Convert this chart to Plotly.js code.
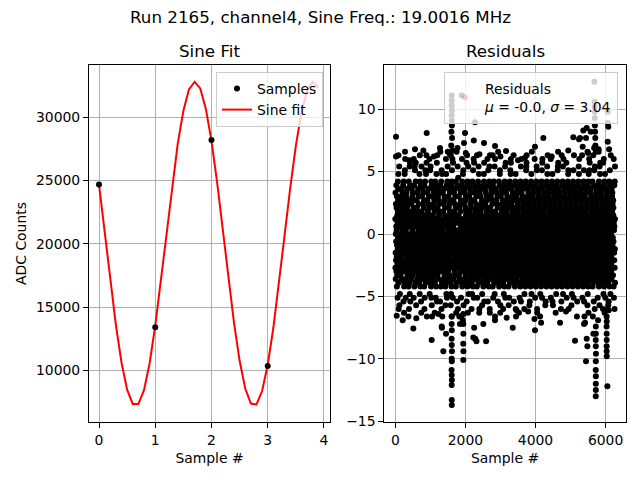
<!DOCTYPE html>
<html>
<head>
<meta charset="utf-8">
<script src="https://cdn.plot.ly/plotly-3.0.1.min.js"></script>
<style>
  html, body { margin: 0; padding: 0; background: #fff; }
  #chart { width: 640px; height: 480px; }
</style>
</head>
<body>
<div id="chart"></div>
<script>
// ---- data ----
const runTitle = 'Run 2165, channel4, Sine Freq.: 19.0016 MHz';

// ADC samples and the fitted sine (left panel)
const sampleX = [0, 1, 2, 3];
const sampleY = [24685, 13395, 28183, 10340];

const fitX = [0, 0.1, 0.2, 0.3, 0.4, 0.5, 0.6, 0.7, 0.8, 0.9,
              1.0, 1.1, 1.2, 1.3, 1.4, 1.5, 1.6, 1.7, 1.8, 1.9,
              2.0, 2.1, 2.2, 2.3, 2.4, 2.5, 2.6, 2.7, 2.8, 2.9,
              3.0, 3.1, 3.2, 3.3, 3.4, 3.5, 3.6, 3.7, 3.8, 3.9];
const fitY = [24660, 20940, 17140, 13590, 10620, 8470, 7340, 7330, 8430, 10560,
              13520, 17070, 20860, 24580, 27900, 30500, 32190, 32790, 32260, 30650,
              28100, 24840, 21130, 17330, 13760, 10750, 8560, 7370, 7300, 8360,
              10440, 13360, 16880, 20670, 24400, 27750, 30390, 32130, 32790, 32320];

// Residuals (right panel), every 3rd sample, one char per value:
// position in resAlphabet minus 32 ('g' = 0), times 0.3 ADC counts.
// One row = 150 samples.
const resAlphabet = 'ABCDEFGHIJKLMNOPQRSTUVWXYZabcdefghijklmnopqrstuvwxyz0123456789+/';
const resEvery = 3;
const resCode = [
  'kXrbUgoZeitWnhaSqdVlYjPcmufspw1TMZeXiybNkdYaQlfWco',
  'VdmZsgaXqiYbUnfkWhrjecolptXgObuiYLSTeZkwdx2j0WmcfP',
  'hUqbYlZrgdWnsaeXjcViokfmpKSeuYMkaTicyZQzbtdOXjlfWg',
  'aWjoUgcsZmeYqhbVkXrdlfpinP0gtaedSkyWbxZiTfXcuzjYNm',
  'eZpiWcnYgkUrafXmdsjbVoqlhdTiWgwbQ1ZuekSafjtcXOhLYy',
  'mXhcqYsbUjZfoWgdrVkaenilpStMbePjXuhZcxTiYawfkd1zWe',
  'YkUfpaXrhdmZcsbWoigVqeljn0gQaiTxcZedyWkjSbuPfYtNXK',
  'qdXjaUlhZseWcongYbrfVipmkLTbhfuXcaPkWeStdwjiYzOgZ1',
  'gVnbYqeUkZsidXpaloWcrhfjmeOk2tZahSdjXuiMbxcTfwYKgW',
  'ZhrcWmUjfYoagdsXbkqeVpinlcSNiTY0bwekQZatjPfXduWgy2',
  'fWkaqZhUdnYsgcXobjVrmielpTgN1hQtbZSeuKjxXcg0fdYPiz',
  'iYpcUkgZraXmfdWsbhoVjqelnuShgLeTZ2cjbOYtk3ayXdMfvg',
  'bXlgqVhdZnUfsjaYckoWmeripPgeKtchTZ0bSujXdiJwaYgxfN',
  'kWdoZshUbgYrjXacfnVpiqlmegTzhOcbt1eZSjkuLaXdyYfQig',
  'jaWqcYmgUZskfXodbhreVnlipMcTgZQkbeutYdSjxaXfi0PWgz',
  'ZpgbXkUhreWmacjYsdfoVqilneS1jPhbZtidXuckTayYgwfWLM',
  'dYriUgaZmcWqhXkbsejVolfpnNQchTeZbjtYaSkdXiwfuzOgWc',
  'hbWsgZoUjcXreYkadmfVqiplnT0dhjOZcbxaYteSkXfiuygWML',
  'caXnYgiUqZdsWhkbrmfeVjolpZ1StgcPeYbjuiXaTdkfyQgWK0',
  'mgZcWsYaUkhpXbdrjfeoVqinlhOb2eTZkjcuYSdaXtfiwxgWLN',
  'XigqaZkUcsWhdYmbrejofVlpncMTZhebQkjtYaSdXuifygPWhz',
  'gkYrcUaZsmhWebXqdjofVpilnbhSNZcetPjkYaXudTfixgwW0z',
  'ZsgbWkoUhcYqaXmdrejfVipln1hOcTZebjktYSaXdufiwMgWKc',
  'hYdqUgZaksWcXmbroejfViplncLZThebPjkYtaSXduifyOgWh0',
  'rgXaWkZUcshYqbdmoejfViplnZhMQcTebjYktSaXudfixgyWz1',
  'cWYgsaUZkhqXmbdroejfViplnNgZcOTbejkYStaXdufiwQgWh2',
  'kZgWqYaUcshXrmbdoejfVipln0cZhTPebjkYtSaXduifygxWML',
  'YgcWaZsUkqhXmbrdoejfViplnhZKcQTebjkYSatXdufixPgWz0',
  'gWsZaYkUchXqmbdroejfViplncNhZTObejkYtSaXduifygwWh1',
  'aZgWYskUchqXbmrdoejfViplnZhc0PTebjkYStaXdufiwOgWhN',
  'WgZaYcsUkhXqmbrdoejfViplnLZchTQbejkYtSaXduifxgyW2z',
  'sgWZaYkUchXqbmdroejfViplnMgZcOTebjkYSatXdufiyQgWh0',
  'gZWaYsckUhXqmbdroejfViplncZzhTPbejkYtSaXduifwgxWhM',
  'ZagWYskUchXqmbrdoejfViplnNhZcQTebjkYStaXdufixPgWh1',
  'WaZgYskUchqXmbdroejfViplnhcKZTObejkYtSaXduifygwWh0',
  'gaWZYkUschXqmbrdoejfViplnZ1hcPTebjkYSatXdufixOgWhK',
  'hXcqUaZgksWmYbdrojefVilpnTgN2hQtbZSeuLjwXcg0fdYxiz',
  'kYgaWsZUchrXqmbdeojfViplnuShgKeTZ1cjbOYtk3axXdMfyg',
  'ZgcWYaqUkshXbmdroejfViplnPgeJtchTZ2bSujXdiNyaYgwfz',
  'gWZaYsqUkchXmbrdoejfViplnMTzhQcbt0eZSjkuLaXdwYfPig',
  'aWgZsYkUhcXqbmdroejfViplnNcTgZOkbeutYdSjxaXfigQWg1',
  'ZgWaYkUschXqmbrdoejfViplneS0jPhbZtiMXuckT'
];

// larger excursions, read point by point (sample #, residual)
const outlierX = [20, 20, 400, 562, 800, 895, 1100, 1275,
  1609, 1609, 1609, 1612, 1606, 1610, 1615, 1600, 1620, 1595, 1630, 1560,
  1894, 1989, 1960, 2010, 2240, 2274, 2400, 2531, 2700, 2845, 3000, 3158,
  3500, 3700, 3985, 4223, 4462, 4747, 4936, 5079, 5241, 5270, 5346, 5364,
  5441, 5460, 5575, 5500,
  5680, 5685, 5688, 5690, 5690, 5695, 5700, 5705, 5710, 5720, 5800,
  6060, 6062, 6077, 6060, 6100, 6268,
  40, 211, 514, 600, 900, 1038, 1230, 1324, 1330, 1370, 1447,
  1609, 1609, 1612, 1606, 1610, 1615, 1608, 1612, 1605, 1610, 1614, 1609, 1610, 1612,
  1826, 1845, 1940, 1940, 1942, 1938, 1944, 1940,
  2225, 2250, 2280, 2315, 2511, 2590, 2845, 3178, 3350, 3460, 3790, 3970,
  3986, 4160, 4700, 4870, 5127, 5384, 5413, 5441, 5460, 5480, 5650,
  5720, 5722, 5718, 5720, 5724, 5720, 5718, 5722, 5720, 5721, 5719,
  6030, 6030, 6032, 6028, 6030, 6031, 6029, 6030, 6032, 6050, 6090];
const outlierY = [7.8, 6.2, 5.9, 6.8, 6.7, 8.1, 6.2, 6.9,
  11.1, 10.7, 10.3, 9.9, 9.5, 9.1, 8.7, 8.2, 7.7, 7.1, 6.7, 6.4,
  11.1, 8.1, 7.3, 6.5, 7.5, 8.95, 6.4, 7.3, 6.3, 7.05, 6.2, 6.65,
  5.9, 6.1, 7.0, 7.7, 6.2, 6.3, 6.7, 7.75, 7.6, 7.7, 7.0, 8.3,
  7.7, 8.5, 8.2, 6.5,
  12.2, 10.6, 10.2, 9.8, 9.3, 8.7, 8.2, 7.7, 7.1, 6.6, 6.8,
  9.8, 8.9, 8.6, 7.4, 6.8, 5.4,
  -6.55, -6.9, -7.56, -6.75, -6.6, -8.5, -6.4, -7.4, -7.5, -9.4, -8.0,
  -6.6, -7.2, -7.7, -8.4, -8.9, -9.4, -10.0, -10.2, -10.9, -11.3, -11.7, -12.1, -13.3, -13.7,
  -6.6, -7.2, -6.4, -7.2, -8.0, -8.8, -9.4, -10.1,
  -8.3, -7.5, -8.4, -8.6, -7.2, -8.6, -6.9, -6.7, -7.5, -6.1, -6.2, -6.8,
  -7.7, -7.1, -7.1, -6.2, -8.55, -7.2, -7.1, -10.2, -8.4, -9.0, -8.0,
  -7.4, -8.0, -8.5, -9.0, -9.6, -10.2, -10.9, -11.4, -12.0, -12.5, -13.0,
  -6.1, -6.6, -7.0, -7.4, -8.0, -8.5, -9.0, -9.4, -9.8, -12.2, -6.1];

const residualLabel = 'Residuals<br><i>μ</i> = -0.0, <i>σ</i> = 3.04';

// ---- build residual series ----
const resX = [];
const resY = [];
resCode.join('').split('').forEach((ch, i) => {
  resX.push(i * resEvery);
  resY.push((resAlphabet.indexOf(ch) - 32) * 0.3);
});
outlierX.forEach((x, i) => {
  resX.push(x);
  resY.push(outlierY[i]);
});

// ---- styling ----
const FONT = 'DejaVu Sans, sans-serif';
const W = 640, H = 480;
const px = v => v / W;
const py = v => 1 - v / H;

const axisBase = {
  showline: true, mirror: true, linecolor: '#000', linewidth: 1,
  ticks: 'outside', ticklen: 5, tickwidth: 1, tickcolor: '#000',
  showgrid: true, gridcolor: '#b0b0b0', gridwidth: 1,
  zeroline: false, automargin: false,
  tickfont: { family: FONT, size: 13.9, color: '#000' }
};
const axisTitleFont = { family: FONT, size: 13.9, color: '#000' };

const legendBase = {
  bgcolor: 'rgba(255,255,255,0.8)', bordercolor: '#cccccc', borderwidth: 1,
  font: { family: FONT, size: 13.9, color: '#000' },
  xanchor: 'right', yanchor: 'top', tracegroupgap: 0
};

const traces = [
  {
    type: 'scatter', mode: 'lines', name: 'Sine fit',
    x: fitX, y: fitY, xaxis: 'x', yaxis: 'y',
    line: { color: '#ff0000', width: 2 }, legendrank: 2
  },
  {
    type: 'scatter', mode: 'markers', name: 'Samples',
    x: sampleX, y: sampleY, xaxis: 'x', yaxis: 'y',
    marker: { color: '#000', size: 6 }, legendrank: 1
  },
  {
    type: 'scatter', mode: 'markers', name: 'Residuals',
    x: resX, y: resY, xaxis: 'x2', yaxis: 'y2',
    marker: { color: '#000', size: 6 }, showlegend: false
  },
  {
    // legend entry only (no visible handle, as in the reference)
    type: 'scatter', mode: 'markers', name: residualLabel,
    x: [null], y: [null], xaxis: 'x2', yaxis: 'y2',
    marker: { opacity: 0 }, legend: 'legend2', hoverinfo: 'skip'
  }
];

const layout = {
  width: W, height: H,
  margin: { l: 0, r: 0, t: 0, b: 0 },
  paper_bgcolor: '#fff', plot_bgcolor: '#fff',
  font: { family: FONT, color: '#000' },
  showlegend: true,
  xaxis: Object.assign({}, axisBase, {
    domain: [px(89), px(330)], range: [-0.178, 4.107], dtick: 1, anchor: 'y',
    title: { text: 'Sample #', font: axisTitleFont, standoff: 6 }
  }),
  yaxis: Object.assign({}, axisBase, {
    domain: [py(422), py(65)], range: [5916, 34115], dtick: 5000, tickformat: 'd', anchor: 'x',
    title: { text: 'ADC Counts', font: axisTitleFont, standoff: 6 }
  }),
  xaxis2: Object.assign({}, axisBase, {
    domain: [px(384.3), px(625.7)], range: [-314, 6573], dtick: 2000, anchor: 'y2',
    title: { text: 'Sample #', font: axisTitleFont, standoff: 6 }
  }),
  yaxis2: Object.assign({}, axisBase, {
    domain: [py(422), py(65)], range: [-15.06, 13.54], dtick: 5, anchor: 'x2'
  }),
  legend: Object.assign({}, legendBase, { x: px(323), y: py(72) }),
  legend2: Object.assign({}, legendBase, { x: px(618), y: py(72) }),
  annotations: [
    { text: runTitle, xref: 'paper', yref: 'paper', x: 0.5, y: py(17),
      xanchor: 'center', yanchor: 'middle', showarrow: false,
      font: { family: FONT, size: 16.7, color: '#000' } },
    { text: 'Sine Fit', xref: 'paper', yref: 'paper', x: px(209.5), y: py(51),
      xanchor: 'center', yanchor: 'middle', showarrow: false,
      font: { family: FONT, size: 16.7, color: '#000' } },
    { text: 'Residuals', xref: 'paper', yref: 'paper', x: px(505), y: py(51),
      xanchor: 'center', yanchor: 'middle', showarrow: false,
      font: { family: FONT, size: 16.7, color: '#000' } }
  ]
};

Plotly.newPlot('chart', traces, layout, { displayModeBar: false, staticPlot: true });
</script>
</body>
</html>
